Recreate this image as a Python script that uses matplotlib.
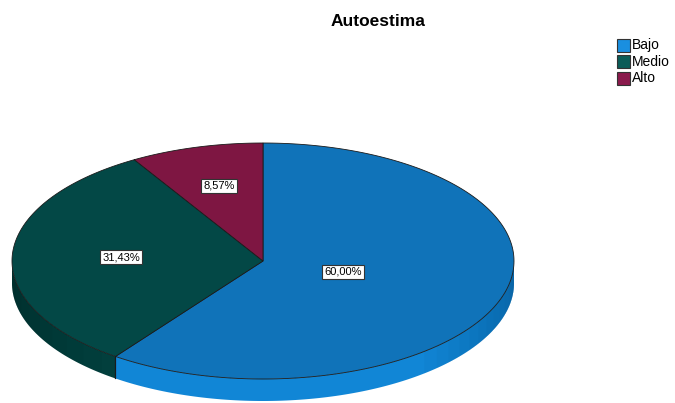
import numpy as np
import matplotlib
matplotlib.use("Agg")
import matplotlib.pyplot as plt
from matplotlib.patches import Polygon, Rectangle

# Data
categories = ["Bajo", "Medio", "Alto"]
values = [60.00, 31.43, 8.57]
labels = ["60,00%", "31,43%", "8,57%"]
top_colors = ["#1073b9", "#034846", "#7e1642"]
side_colors = ["#1186d6", "#023f3d", "#6e1238"]

plt.rcParams["font.family"] = ["Liberation Sans", "DejaVu Sans"]

fig = plt.figure(figsize=(6.75, 4.03), dpi=100)
ax = fig.add_axes([0, 0, 1, 1])
ax.set_xlim(0, 675)
ax.set_ylim(403, 0)
ax.axis("off")

# pie geometry in pixel coords
cx, cy, rx, ry, depth = 263, 261, 251, 118, 22


def pt(theta_deg, dy=0):
    t = np.radians(theta_deg)
    return cx + rx * np.cos(t), cy - ry * np.sin(t) + dy


def wall(a0, a1, **kw):
    th = np.linspace(a0, a1, 120)
    xt, yt = pt(th)
    xb, yb = pt(th[::-1], depth)
    ax.add_patch(Polygon(list(zip(xt, yt)) + list(zip(xb, yb)), closed=True,
                         edgecolor="none", zorder=1, **kw))


# slice angles: start at top, go clockwise
fracs = np.array(values) / sum(values)
starts = 90 - 360 * np.concatenate([[0], np.cumsum(fracs)[:-1]])
ends = starts - 360 * fracs

# side walls (only visible front half: angles 180..360)
for s, e, col in zip(starts, ends, side_colors):
    lo, hi = min(s, e), max(s, e)
    for shift in (0, 360, -360):
        a0, a1 = max(lo + shift, 180), min(hi + shift, 360)
        if a1 <= a0:
            continue
        wall(a0, a1, facecolor=col)
        # gradual shading toward the sides of the wall
        for k in np.linspace(310, 352, 12):
            if a0 < k < a1:
                wall(k, a1, facecolor="#0a4f85", alpha=0.06)
        for k in np.linspace(230, 190, 8):
            if a0 < k < a1:
                wall(a0, k, facecolor="black", alpha=0.03)
        for a in (a0, a1):
            if 180 < a < 360:
                x0, y0 = pt(a)
                ax.plot([x0, x0], [y0, y0 + depth], color="#1a1a1a", lw=0.8, zorder=2)

# top faces
for s, e, col in zip(starts, ends, top_colors):
    th = np.linspace(s, e, 200)
    xs, ys = pt(th)
    poly = [(cx, cy)] + list(zip(xs, ys))
    ax.add_patch(Polygon(poly, closed=True, facecolor=col,
                         edgecolor="#1a1a1a", linewidth=0.6, zorder=3))

# labels
label_pos = [(343, 272), (121, 257), (219, 186)]
for (lx, ly), lab in zip(label_pos, labels):
    ax.text(lx, ly, lab, ha="center", va="center", fontsize=8, color="black",
            zorder=5, bbox=dict(boxstyle="square,pad=0.2", facecolor="white",
                                edgecolor="#333333", linewidth=0.8))

# title
ax.text(378, 21, "Autoestima", ha="center", va="center", fontsize=12.5,
        fontweight="bold", color="black")

# legend
for i, (cat, col) in enumerate(zip(categories, ["#1a8fe0", "#0a5c58", "#8a1a4c"])):
    y = 45 + i * 16.5
    ax.add_patch(Rectangle((617, y - 6.5), 13, 13, facecolor=col,
                           edgecolor="#333333", linewidth=0.8))
    ax.text(632, y, cat, ha="left", va="center", fontsize=10, color="black")

fig.savefig("out.png", dpi=100)
